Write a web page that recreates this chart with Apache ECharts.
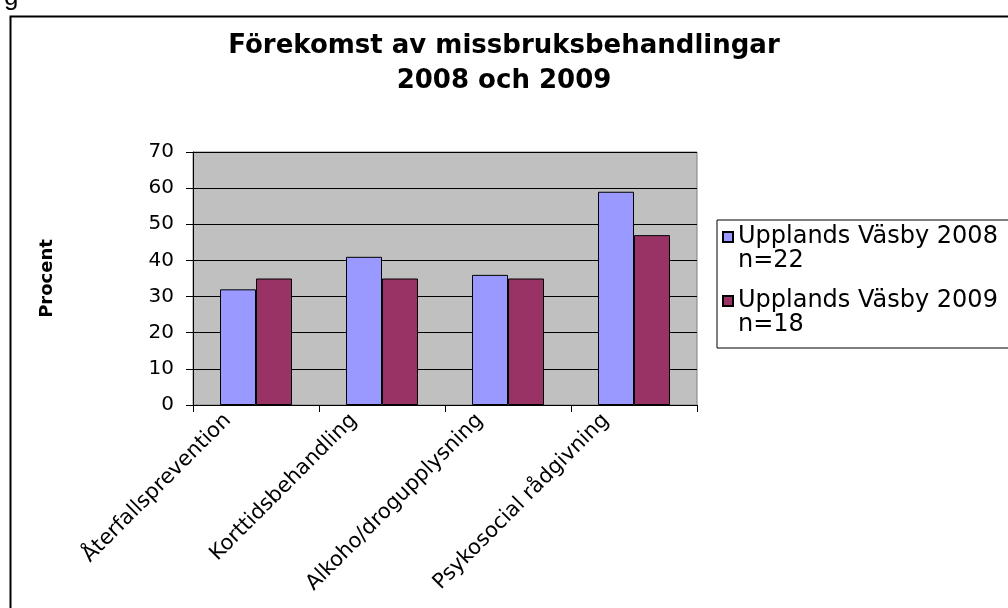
<!DOCTYPE html>
<html>
<head>
<meta charset="utf-8">
<script src="https://cdn.jsdelivr.net/npm/echarts@6/dist/echarts.min.js"></script>
<style>
html,body{margin:0;padding:0;background:#fff;}
#chart{width:1008px;height:608px;}
</style>
</head>
<body>
<div id="chart"></div>
<script>
const categories = ['Återfallsprevention', 'Korttidsbehandling', 'Alkoho/drogupplysning', 'Psykosocial rådgivning'];
const seriesNames = ['Upplands Väsby 2008', 'Upplands Väsby 2009'];
const seriesNotes = ['n=22', 'n=18'];
const values2008 = [32, 41, 36, 59];
const values2009 = [35, 35, 35, 47];
const yTicks = { min: 0, max: 70, interval: 10 };
const titleText = 'Förekomst av missbruksbehandlingar\n2008 och 2009';
const yAxisName = 'Procent';

const FONT = 'DejaVu Sans';
const chart = echarts.init(document.getElementById('chart'), null, { renderer: 'canvas' });
const noteMap = {};
seriesNames.forEach((n, i) => { noteMap[n] = seriesNotes[i]; });

chart.setOption({
  animation: false,
  backgroundColor: '#ffffff',
  title: {
    text: titleText,
    left: 'center',
    top: 24,
    textStyle: { fontFamily: FONT, fontWeight: 'bold', fontSize: 26, lineHeight: 35, color: '#000' }
  },
  legend: {
    orient: 'vertical',
    left: 717,
    top: 220,
    padding: [4, 30, 10, 5],
    itemGap: 14,
    itemWidth: 10,
    itemHeight: 48,
    icon: 'path://M0,7H10V17H0Z M0,0 M10,48',
    borderColor: '#000',
    borderWidth: 1,
    textStyle: { fontFamily: FONT, fontSize: 24, lineHeight: 24, color: '#000' },
    formatter: name => name + '\n' + noteMap[name],
    data: seriesNames
  },
  grid: {
    left: 193, right: 311, top: 152, bottom: 203,
    show: true, backgroundColor: '#C0C0C0', borderColor: '#808080', borderWidth: 1
  },
  xAxis: {
    type: 'category',
    data: categories,
    axisLine: { lineStyle: { color: '#000', width: 1 } },
    axisTick: { show: true, length: 7, lineStyle: { color: '#000' } },
    axisLabel: { interval: 0, rotate: 45, margin: -16, padding: [0, 40, 0, 0], fontFamily: FONT, fontSize: 21, color: '#000' }
  },
  yAxis: {
    type: 'value',
    min: yTicks.min, max: yTicks.max, interval: yTicks.interval,
    name: yAxisName,
    nameLocation: 'middle',
    nameRotate: 90,
    nameGap: 137,
    nameTextStyle: { fontFamily: FONT, fontWeight: 'bold', fontSize: 18, color: '#000' },
    axisLine: { show: true, lineStyle: { color: '#000', width: 1 } },
    axisTick: { show: true, length: 7, lineStyle: { color: '#000' } },
    axisLabel: { margin: 19, fontFamily: FONT, fontSize: 20, color: '#000' },
    splitLine: { show: true, lineStyle: { color: '#000', width: 1 } }
  },
  series: [
    {
      name: seriesNames[0], type: 'bar', data: values2008,
      barWidth: 36, barGap: '0%',
      itemStyle: { color: '#9999FF', borderColor: '#000', borderWidth: 1 }
    },
    {
      name: seriesNames[1], type: 'bar', data: values2009,
      barWidth: 36, barGap: '0%',
      itemStyle: { color: '#993366', borderColor: '#000', borderWidth: 1 }
    }
  ],
  graphic: [
    { type: 'rect', left: 8, top: 14, shape: { width: 1100, height: 700 }, style: { fill: 'none', stroke: '#000', lineWidth: 2 }, silent: true, z: 100 },
    { type: 'text', x: 4, y: 11, style: { text: 'g', fontFamily: 'Liberation Sans', fontSize: 26, fill: '#000', verticalAlign: 'bottom' }, silent: true }
  ]
});
</script>
</body>
</html>
